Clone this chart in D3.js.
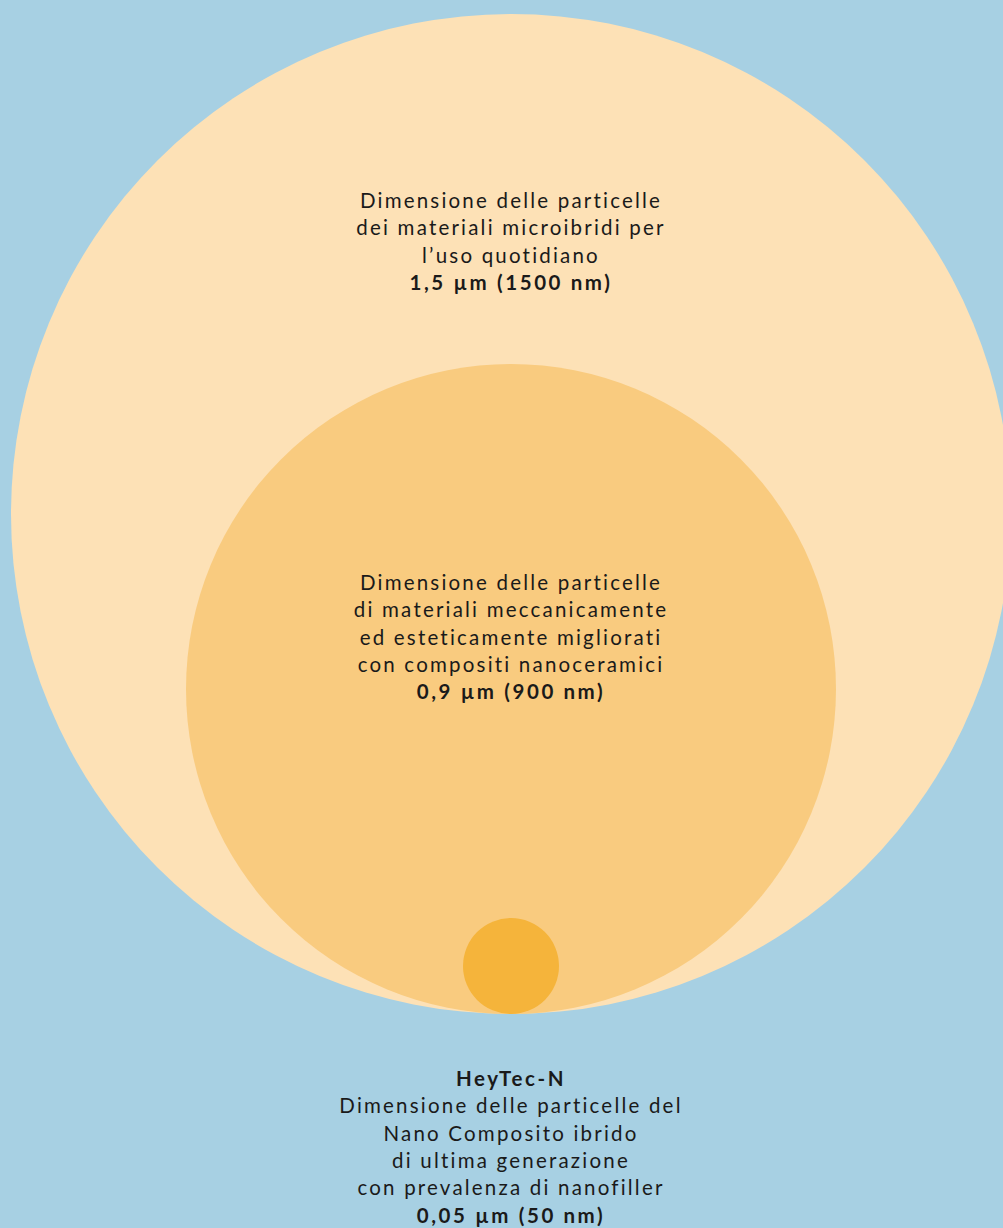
<!DOCTYPE html>
<html>
<head>
  <meta charset="utf-8">
  <title>Dimensione delle particelle</title>
  <style>
    html, body {
      margin: 0;
      padding: 0;
      background: #a7d0e3;
    }
    svg {
      display: block;
      font-family: Lato, "Open Sans", sans-serif;
    }
    .label text {
      fill: #1a1a1a;
      font-size: 20.5px;
      letter-spacing: 2.2px;
      text-anchor: middle;
    }
    .label .value, .label .title {
      font-weight: 700;
      letter-spacing: 2.6px;
    }
  </style>
</head>
<body>
  <svg width="1003" height="1228"></svg>

  <script src="https://cdn.jsdelivr.net/npm/d3@7"></script>
  <script>
    // particle sizes in nm, largest first so the small ones sit on top
    var sizes = [1500, 900, 50];
    var valueLabels = ['1,5 µm (1500 nm)', '0,9 µm (900 nm)', '0,05 µm (50 nm)'];
    var titles = [null, null, 'HeyTec-N'];
    var descriptions = [
      ['Dimensione delle particelle', 'dei materiali microibridi per', 'l\u2019uso quotidiano'],
      ['Dimensione delle particelle', 'di materiali meccanicamente', 'ed esteticamente migliorati', 'con compositi nanoceramici'],
      ['Dimensione delle particelle del', 'Nano Composito ibrido', 'di ultima generazione', 'con prevalenza di nanofiller']
    ];
    var colors = ['#fde1b6', '#f9cb7f', '#f5b43b'];

    var svg = d3.select('svg');
    var cx = 511;
    var groundY = 1014; // all circles sit on the same bottom line

    // the picture is not drawn to true scale, so a piecewise scale follows it
    var r = d3.scaleLinear()
      .domain([50, 900, 1500])
      .range([48, 325, 500]);

    var data = sizes.map(function(s, i) {
      return {
        size: s,
        value: valueLabels[i],
        title: titles[i],
        desc: descriptions[i],
        color: colors[i]
      };
    });

    svg.selectAll('circle')
      .data(data)
      .enter().append('circle')
      .attr('cx', cx)
      .attr('cy', function(d) { return groundY - r(d.size); })
      .attr('r', function(d) { return r(d.size); })
      .attr('fill', function(d) { return d.color; });

    // first baseline of each label block: inside the top of the two big circles,
    // below the smallest one
    var lineH = 27.3;
    function firstBaseline(d, i) {
      if (i === 0) return groundY - 2 * r(d.size) + 194;
      if (i === 1) return groundY - 2 * r(d.size) + 226;
      return groundY + 72;
    }

    var labels = svg.selectAll('g.label')
      .data(data)
      .enter().append('g')
      .attr('class', 'label')
      .attr('transform', function(d, i) {
        return 'translate(' + cx + ',' + firstBaseline(d, i) + ')';
      });

    labels.each(function(d) {
      var g = d3.select(this);
      var lines = [];
      if (d.title) lines.push({ text: d.title, cls: 'title' });
      d.desc.forEach(function(t) { lines.push({ text: t, cls: 'desc' }); });
      lines.push({ text: d.value, cls: 'value' });

      g.selectAll('text')
        .data(lines)
        .enter().append('text')
        .attr('class', function(l) { return l.cls; })
        .attr('x', 0)
        .attr('y', function(l, j) { return j * lineH; })
        .text(function(l) { return l.text; });
    });
  </script>
</body>
</html>
